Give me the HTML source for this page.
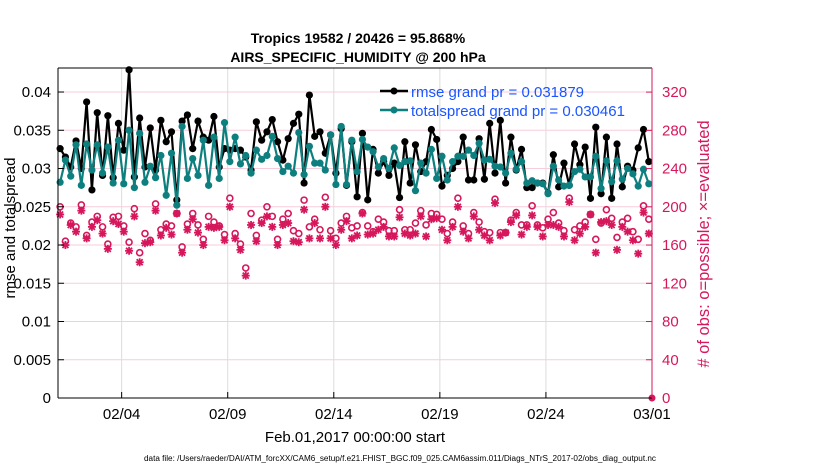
<!DOCTYPE html>
<html><head><meta charset="utf-8"><style>
html,body{margin:0;padding:0;background:#fff;}
svg{display:block;font-family:"Liberation Sans",sans-serif;}
</style></head><body>
<svg id="chart" width="830" height="470" viewBox="0 0 830 470" xmlns="http://www.w3.org/2000/svg">
<text x="358" y="43" text-anchor="middle" font-size="14" font-weight="bold">Tropics 19582 / 20426 = 95.868%</text>
<text x="358" y="62" text-anchor="middle" font-size="14" font-weight="bold">AIRS_SPECIFIC_HUMIDITY @ 200 hPa</text>
<g id="grid"></g>
<g id="obs"></g>
<g id="lines"></g>
<g id="axes"></g>
<text transform="translate(15,228) rotate(-90)" text-anchor="middle" font-size="15">rmse and totalspread</text>
<text transform="translate(709,244) rotate(-90)" text-anchor="middle" font-size="16.5" fill="#d6175c"># of obs: o=possible; ×=evaluated</text>
<text x="355" y="442" text-anchor="middle" font-size="15">Feb.01,2017 00:00:00 start</text>
<text x="400" y="461" text-anchor="middle" font-size="8" textLength="512" lengthAdjust="spacingAndGlyphs">data file: /Users/raeder/DAI/ATM_forcXX/CAM6_setup/f.e21.FHIST_BGC.f09_025.CAM6assim.011/Diags_NTrS_2017-02/obs_diag_output.nc</text>
<g id="legend">
<line x1="380" y1="91" x2="408" y2="91" stroke="#000" stroke-width="2.5"/>
<circle cx="394" cy="91" r="3.5" fill="#000"/>
<text x="411" y="97" font-size="15" fill="#1a55ff">rmse grand pr = 0.031879</text>
<line x1="380" y1="110" x2="408" y2="110" stroke="#0e7f7f" stroke-width="2.5"/>
<circle cx="394" cy="110" r="3.5" fill="#0e7f7f"/>
<text x="411" y="116" font-size="15" fill="#1a55ff">totalspread grand pr = 0.030461</text>
</g>
</svg>
<script>
const rmse=[.0326,.0315,.0302,.0336,.0300,.0387,.0272,.0373,.0291,.0369,.0288,.0359,.0324,.0429,.0289,.0366,.0302,.0353,.0298,
.0363,.0335,.0348,.0259,.0362,.0370,.0326,.0362,.0341,.0337,.0368,.0302,.0326,.0324,.0326,.0324,.0315,.0298,.0361,
.0337,.0348,.0364,.0335,.0311,.0339,.0359,.0371,.0281,.0396,.0342,.0348,.0320,.0344,.0294,.0352,.0278,.0335,.0263,
.0346,.0259,.0325,.0294,.0309,.0291,.0307,.0262,.0335,.0281,.0331,.0296,.0309,.0351,.0338,.0277,.0291,.0300,.0309,
.0341,.0285,.0285,.0339,.0286,.0359,.0294,.0363,.0281,.0341,.0298,.0325,.0275,.0275,.0281,.0281,.0268,.0318,.0276,
.0307,.0278,.0332,.0305,.0328,.0261,.0354,.0267,.0341,.0261,.0332,.0276,.0303,.0298,.0327,.0351,.0309];
const spread=[.0282,.0311,.0290,.0331,.0278,.0332,.0298,.0331,.0294,.0328,.0281,.0337,.0280,.0350,.0275,.0346,.0282,.0303,.0288,
.0317,.0265,.0320,.0252,.0355,.0287,.0313,.0291,.0337,.0278,.0341,.0287,.0360,.0309,.0341,.0306,.0317,.0294,.0324,
.0312,.0317,.0342,.0313,.0296,.0303,.0294,.0347,.0292,.0329,.0307,.0307,.0298,.0344,.0279,.0355,.0279,.0337,.0296,
.0338,.0328,.0322,.0302,.0313,.0300,.0327,.0304,.0309,.0310,.0271,.0307,.0294,.0325,.0287,.0316,.0285,.0309,.0316,
.0316,.0324,.0317,.0333,.0311,.0312,.0303,.0302,.0294,.0320,.0299,.0309,.0281,.0284,.0281,.0280,.0267,.0303,.0285,
.0277,.0278,.0296,.0299,.0289,.0289,.0316,.0274,.0310,.0283,.0310,.0286,.0300,.0293,.0277,.0299,.0280];
const possible=[200,164,183,179,202,170,184,190,179,161,189,190,180,163,198,152,172,165,203,
176,182,180,193,158,182,193,181,166,190,184,180,171,209,172,161,136,193,170,
186,200,190,166,187,193,175,172,207,179,187,176,210,175,167,183,190,178,180,
194,180,174,187,184,175,175,197,176,176,183,196,181,193,192,187,172,184,209,
180,172,194,184,174,173,208,173,173,186,194,181,181,201,181,178,187,194,183,
175,209,176,180,184,192,166,183,197,188,168,184,188,174,166,201,187];
const evaluated=[192,160,181,174,196,167,179,186,172,156,185,182,174,154,190,142,162,163,196,
170,178,171,193,152,176,187,173,160,179,178,179,165,200,167,155,128,181,164,
183,190,179,160,181,183,164,163,197,167,183,167,200,167,160,176,185,167,170,
193,171,172,176,179,169,169,189,172,170,172,190,169,187,188,176,165,179,200,
174,167,190,176,170,165,204,170,173,184,191,171,179,191,179,169,181,181,179,
169,205,165,172,179,192,152,184,185,181,155,179,174,165,151,194,172];
const leftTicks=[0,0.005,0.01,0.015,0.02,0.025,0.03,0.035,0.04];
const leftTickLabels=["0","0.005","0.01","0.015","0.02","0.025","0.03","0.035","0.04"];
const rightTicks=[0,40,80,120,160,200,240,280,320];
const xTickDays=[3,8,13,18,23,28];
const xTickLabels=["02/04","02/09","02/14","02/19","02/24","03/01"];
const endObs=[0];

const NS="http://www.w3.org/2000/svg";
const L=58,R=652,T=68,B=398;
const xs=d=>L+d*(R-L)/28;
const yl=v=>B-v*(B-T)/0.04314;
const yr=v=>B-v*(B-T)/345.2;
const dayOf=i=>0.1+i*27.75/(rmse.length-1);
function mk(tag,attrs,parent){const e=document.createElementNS(NS,tag);for(const k in attrs)e.setAttribute(k,attrs[k]);parent.appendChild(e);return e;}
const grid=document.getElementById('grid'),axes=document.getElementById('axes'),lines=document.getElementById('lines'),obs=document.getElementById('obs');
mk('rect',{x:L,y:T,width:R-L,height:B-T,fill:'#fff'},grid);
xTickDays.forEach((d,i)=>{
  const g=mk('line',{x1:xs(d),x2:xs(d),y1:T,y2:B,stroke:'#dcdcdc','stroke-width':1},grid);
  
  
  mk('line',{x1:xs(d),x2:xs(d),y1:B,y2:B-6,stroke:'#000'},axes);
  const t=mk('text',{x:xs(d),y:419,'text-anchor':'middle','font-size':15},axes);
  t.textContent=xTickLabels[i];
  
  
});
leftTicks.forEach((v,i)=>{
  if(v>0){const g=mk('line',{x1:L,x2:R,y1:yl(v),y2:yl(v),stroke:'#f7cddc','stroke-width':1},grid);
  
  }
  mk('line',{x1:L,x2:L+6,y1:yl(v),y2:yl(v),stroke:'#000'},axes);
  const t=mk('text',{x:51,y:yl(v)+5,'text-anchor':'end','font-size':15},axes);
  t.textContent=leftTickLabels[i];
  
  
});
rightTicks.forEach(v=>{
  mk('line',{x1:R,x2:R-6,y1:yr(v),y2:yr(v),stroke:'#d6175c'},axes);
  const t=mk('text',{x:662,y:yr(v)+5,'font-size':15,fill:'#d6175c'},axes);
  t.textContent=String(v);
  
  
});
mk('line',{x1:L,x2:R,y1:T,y2:T,stroke:'#000'},axes);
mk('line',{x1:L,x2:R,y1:B,y2:B,stroke:'#000'},axes);
mk('line',{x1:L,x2:L,y1:T,y2:B,stroke:'#000'},axes);
mk('line',{x1:R,x2:R,y1:T,y2:B,stroke:'#d6175c'},axes);
const mag='#d6175c';
possible.forEach((v,i)=>{
  const c=mk('circle',{cx:xs(dayOf(i)),cy:yr(v),r:3,fill:'none',stroke:mag,'stroke-width':1.6},obs);
  
  
});
evaluated.forEach((v,i)=>{
  const x=xs(dayOf(i)),y=yr(v),r=4;
  const g=mk('g',{stroke:mag,'stroke-width':1.8},obs);
  
  
  mk('line',{x1:x-r,x2:x+r,y1:y,y2:y},g);
  mk('line',{x1:x,x2:x,y1:y-r,y2:y+r},g);
  mk('line',{x1:x-3,x2:x+3,y1:y-3,y2:y+3},g);
  mk('line',{x1:x-3,x2:x+3,y1:y+3,y2:y-3},g);
});
endObs.forEach(v=>{
  const c=mk('circle',{cx:xs(28),cy:yr(v),r:3.5,fill:mag},obs);
  
  
});
function series(arr,color,name){
  const pts=arr.map((v,i)=>xs(dayOf(i)).toFixed(1)+','+yl(v).toFixed(1)).join(' ');
  const p=mk('polyline',{points:pts,fill:'none',stroke:color,'stroke-width':2.2},lines);
  
  
  arr.forEach((v,i)=>{
    const c=mk('circle',{cx:xs(dayOf(i)),cy:yl(v),r:3.6,fill:color},lines);
    
    
  });
}
series(rmse,'#000','rmse');
series(spread,'#0e7f7f','totalspread');
</script>
</body></html>
